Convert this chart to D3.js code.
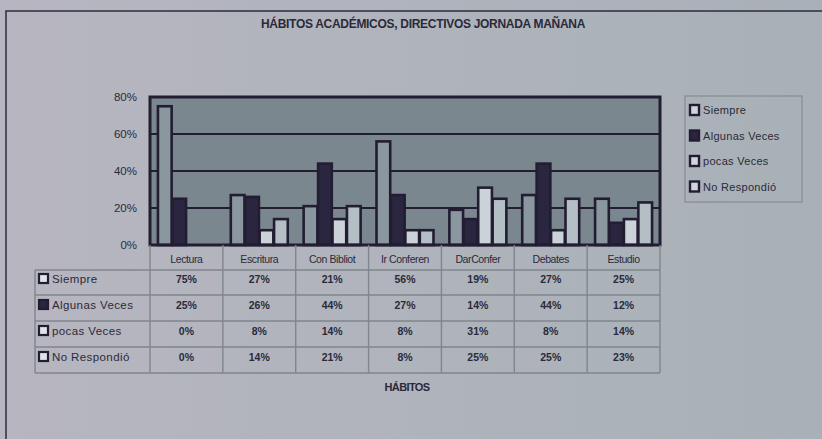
<!DOCTYPE html>
<html>
<head>
<meta charset="utf-8">
<script src="https://cdn.jsdelivr.net/npm/d3@7"></script>
<style>
  body { margin:0; background:#b3b6bc; }
  svg text { font-family: "Liberation Sans", Arial, sans-serif; fill:#2a2a3a; }
</style>
</head>
<body>
<svg id="chart" width="822" height="439"></svg>
<script>
let categories = ["Lectura","Escritura","Con Bibliot","Ir Conferen","DarConfer","Debates","Estudio"]
let seriesNames = ["Siempre","Algunas Veces","pocas Veces","No Respondió"]
let siempre = [75,27,21,56,19,27,25]
let algunas = [25,26,44,27,14,44,12]
let pocas = [0,8,14,8,31,8,14]
let noResp = [0,14,21,8,25,25,23]
let yTicks = [0,20,40,60,80]
let series = [siempre, algunas, pocas, noResp]
let fills = ["#8a979f","#2a2640","#ccd3d8","#b3bec5"]

let svg = d3.select("#chart")
let dark = "#231d33"

let defs = svg.append("defs")
let grad = defs.append("linearGradient").attr("id","bg").attr("x1",0).attr("x2",1).attr("y1",0).attr("y2",0)
grad.append("stop").attr("offset","0%").attr("stop-color","#b7b6c0")
grad.append("stop").attr("offset","100%").attr("stop-color","#a8b1b7")

// outer frame
svg.append("rect").attr("x",0).attr("y",0).attr("width",822).attr("height",439).attr("fill","url(#bg)")
svg.append("rect").attr("x",6).attr("y",11).attr("width",830).attr("height",440)
    .attr("fill","none").attr("stroke","#2c2c3c").attr("stroke-width",1.5)

svg.append("text").attr("x",423).attr("y",28).attr("text-anchor","middle")
    .attr("font-size",12).attr("font-weight","bold").attr("letter-spacing",-0.3)
    .text("HÁBITOS ACADÉMICOS, DIRECTIVOS JORNADA MAÑANA")

let pLeft = 150, pRight = 660, pTop = 97, pBottom = 245

let x = d3.scaleBand().domain(categories).range([pLeft,pRight])
let y = d3.scaleLinear().domain([0,80]).range([pBottom,pTop])
let xs = d3.scaleBand().domain(d3.range(4)).range([0, x.bandwidth()]).paddingOuter(0.55).paddingInner(0.05)

svg.append("rect").attr("x",pLeft).attr("y",pTop).attr("width",pRight-pLeft).attr("height",pBottom-pTop)
    .attr("fill","#7b878f")

// grid lines
svg.selectAll(".grid").data(yTicks.slice(1,4)).enter().append("line")
    .attr("x1",pLeft).attr("x2",pRight).attr("y1",d=>y(d)).attr("y2",d=>y(d))
    .attr("stroke",dark).attr("stroke-width",2.2)

// bars
series.forEach((vals,si)=>{
    svg.selectAll(".b"+si).data(vals).enter().append("rect")
        .attr("x",(d,i)=>x(categories[i])+xs(si))
        .attr("width",xs.bandwidth())
        .attr("y",d=>y(d))
        .attr("height",d=>pBottom-y(d))
        .attr("fill",fills[si])
        .attr("stroke",dark).attr("stroke-width",2.6)
})

svg.append("rect").attr("x",pLeft).attr("y",pTop).attr("width",pRight-pLeft).attr("height",pBottom-pTop)
    .attr("fill","none").attr("stroke",dark).attr("stroke-width",3)

// y axis
let yAxis = svg.append("g").attr("transform",`translate(${pLeft},0)`)
    .call(d3.axisLeft(y).tickValues(yTicks).tickFormat(d=>d+"%").tickSize(0).tickPadding(13))
yAxis.select(".domain").remove()
yAxis.selectAll("text").attr("font-size",11.5).attr("fill","#2a2a3a").attr("font-family","Liberation Sans, Arial")

// data table
let tableLeft = 35
let rowY = [283, 309, 335, 361]
let rowLines = [270, 295, 321, 347, 373]
let grid = "#7f868d"
let tg = svg.append("g")
rowLines.forEach(ly=>{
    tg.append("line").attr("x1",tableLeft).attr("x2",pRight).attr("y1",ly).attr("y2",ly)
        .attr("stroke",grid).attr("stroke-width",1.4)
})
tg.append("line").attr("x1",tableLeft).attr("x2",tableLeft).attr("y1",rowLines[0]).attr("y2",rowLines[4])
    .attr("stroke",grid).attr("stroke-width",1.4)
categories.concat([null]).forEach((c,i)=>{
    let lx = c ? x(c) : pRight
    tg.append("line").attr("x1",lx).attr("x2",lx).attr("y1",pBottom).attr("y2",rowLines[4])
        .attr("stroke",grid).attr("stroke-width",1.4)
})
categories.forEach(c=>{
    tg.append("text").attr("x",x(c)+x.bandwidth()/2).attr("y",263).attr("text-anchor","middle")
        .attr("font-size",10.5).attr("letter-spacing",-0.4).text(c)
})
seriesNames.forEach((n,si)=>{
    tg.append("rect").attr("x",39).attr("y",rowY[si]-9).attr("width",9).attr("height",9)
        .attr("fill",si==1?fills[1]:"#e0e4e8").attr("stroke",dark).attr("stroke-width",2.2)
    tg.append("text").attr("x",52).attr("y",rowY[si]).attr("font-size",11.5).attr("letter-spacing",0.4).text(n)
    series[si].forEach((v,i)=>{
        tg.append("text").attr("x",x(categories[i])+x.bandwidth()/2).attr("y",rowY[si])
            .attr("text-anchor","middle").attr("font-size",10.5).attr("font-weight","bold")
            .attr("fill","#3a3f50").text(v+"%")
    })
})

svg.append("text").attr("x",407).attr("y",391).attr("text-anchor","middle")
    .attr("font-size",11).attr("font-weight","bold").attr("letter-spacing",-0.6).text("HÁBITOS")

// legend
let lg = svg.append("g")
lg.append("rect").attr("x",685).attr("y",96).attr("width",117).attr("height",106)
    .attr("fill","none").attr("stroke","#8b9196").attr("stroke-width",1.4)
seriesNames.forEach((n,si)=>{
    let ly = 114 + si*25.5
    lg.append("rect").attr("x",690).attr("y",ly-9).attr("width",9).attr("height",10)
        .attr("fill",si==1?fills[1]:"#cfd5da").attr("stroke",dark).attr("stroke-width",2.4)
    lg.append("text").attr("x",703).attr("y",ly).attr("font-size",11).attr("letter-spacing",0.3).text(n)
})
</script>
</body>
</html>
